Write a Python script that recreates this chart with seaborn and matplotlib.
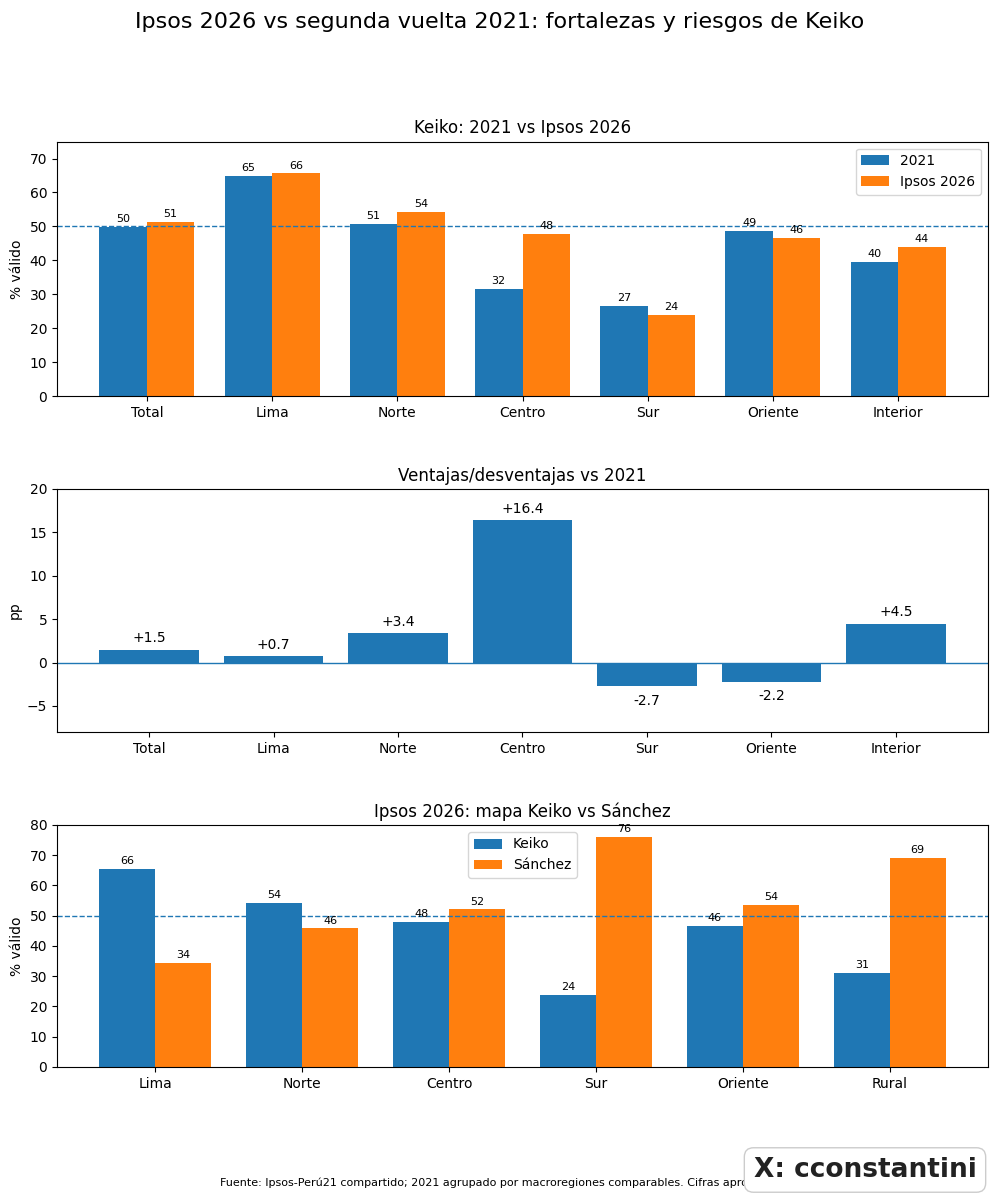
import matplotlib
matplotlib.use("Agg")
import matplotlib.pyplot as plt
import seaborn as sns
import pandas as pd

# ---- data ----
regiones_1 = ["Total", "Lima", "Norte", "Centro", "Sur", "Oriente", "Interior"]
keiko_2021 = [49.9, 64.9, 50.8, 31.5, 26.6, 48.7, 39.5]
keiko_2026 = [51.4, 65.6, 54.2, 47.9, 23.9, 46.5, 44.0]
series_1 = ["2021", "Ipsos 2026"]

diferencias = [1.5, 0.7, 3.4, 16.4, -2.7, -2.2, 4.5]

regiones_3 = ["Lima", "Norte", "Centro", "Sur", "Oriente", "Rural"]
keiko_mapa = [65.6, 54.2, 47.9, 23.9, 46.5, 31.0]
sanchez_mapa = [34.4, 45.8, 52.1, 76.1, 53.5, 69.0]
series_3 = ["Keiko", "Sánchez"]

C0, C1 = "#1f77b4", "#ff7f0e"

plt.rcParams["font.family"] = ["DejaVu Sans"]

fig = plt.figure(figsize=(10, 12), dpi=100)
L, R = 0.057, 0.988
ax1 = fig.add_axes([L, 0.670, R - L, 0.212])
ax2 = fig.add_axes([L, 0.390, R - L, 0.2025])
ax3 = fig.add_axes([L, 0.111, R - L, 0.2015])

# ---- panel 1 ----
df1 = pd.DataFrame({
    "region": regiones_1 * 2,
    "serie": [series_1[0]] * len(regiones_1) + [series_1[1]] * len(regiones_1),
    "valor": keiko_2021 + keiko_2026,
})
sns.barplot(data=df1, x="region", y="valor", hue="serie", order=regiones_1,
            hue_order=series_1, palette=[C0, C1], saturation=1, width=0.76,
            errorbar=None, linewidth=0, ax=ax1)
for c in ax1.containers:
    ax1.bar_label(c, fmt="%.0f", fontsize=8, padding=2)
ax1.axhline(50, linestyle="--", linewidth=1, color=C0)
n = len(regiones_1)
span = (n - 1) + 0.76
ax1.set_xlim(-0.38 - 0.05 * span, n - 1 + 0.38 + 0.05 * span)
ax1.set_ylim(0, 75)
ax1.set_title("Keiko: 2021 vs Ipsos 2026", fontsize=12)
ax1.set_ylabel("% válido", fontsize=10)
ax1.set_xlabel("")
ax1.legend(loc="upper right", fontsize=10)

# ---- panel 2 ----
df2 = pd.DataFrame({"region": regiones_1, "pp": diferencias})
sns.barplot(data=df2, x="region", y="pp", order=regiones_1, color=C0,
            saturation=1, width=0.8, errorbar=None, linewidth=0, ax=ax2)
ax2.axhline(0, linewidth=1, color=C0)
for i, v in enumerate(diferencias):
    if v >= 0:
        ax2.text(i, v + 0.5, f"{v:+.1f}", ha="center", va="bottom", fontsize=10)
    else:
        ax2.text(i, v - 0.9, f"{v:+.1f}", ha="center", va="top", fontsize=10)
span2 = (n - 1) + 0.8
ax2.set_xlim(-0.4 - 0.05 * span2, n - 1 + 0.4 + 0.05 * span2)
ax2.set_ylim(-8, 20)
ax2.set_title("Ventajas/desventajas vs 2021", fontsize=12)
ax2.set_ylabel("pp", fontsize=10)
ax2.set_xlabel("")

# ---- panel 3 ----
m = len(regiones_3)
df3 = pd.DataFrame({
    "region": regiones_3 * 2,
    "serie": [series_3[0]] * m + [series_3[1]] * m,
    "valor": keiko_mapa + sanchez_mapa,
})
sns.barplot(data=df3, x="region", y="valor", hue="serie", order=regiones_3,
            hue_order=series_3, palette=[C0, C1], saturation=1, width=0.76,
            errorbar=None, linewidth=0, ax=ax3)
for c in ax3.containers:
    ax3.bar_label(c, fmt="%.0f", fontsize=8, padding=2)
ax3.axhline(50, linestyle="--", linewidth=1, color=C0)
span3 = (m - 1) + 0.76
ax3.set_xlim(-0.38 - 0.05 * span3, m - 1 + 0.38 + 0.05 * span3)
ax3.set_ylim(0, 80)
ax3.set_title("Ipsos 2026: mapa Keiko vs Sánchez", fontsize=12)
ax3.set_ylabel("% válido", fontsize=10)
ax3.set_xlabel("")
ax3.legend(loc="upper center", fontsize=10)

for ax in (ax1, ax2, ax3):
    ax.tick_params(labelsize=10)

fig.suptitle("Ipsos 2026 vs segunda vuelta 2021: fortalezas y riesgos de Keiko",
             fontsize=16, y=0.99, va="top")

fig.text(0.22, 0.014,
         "Fuente: Ipsos-Perú21 compartido; 2021 agrupado por macroregiones comparables. Cifras aproximadas.",
         fontsize=8, ha="left", va="center")
fig.text(0.865, 0.025, "X: cconstantini", fontsize=19, fontweight="bold",
         color="#222222", ha="center", va="center",
         bbox=dict(boxstyle="round,pad=0.35", facecolor="white",
                   edgecolor="#cccccc", linewidth=1))

fig.savefig("out.png", dpi=100)
